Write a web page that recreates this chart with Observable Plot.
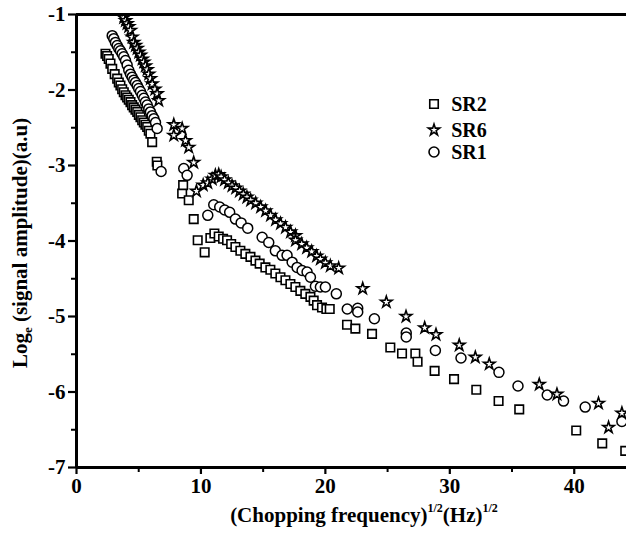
<!DOCTYPE html>
<html>
<head>
<meta charset="utf-8">
<script src="https://cdn.jsdelivr.net/npm/d3@7"></script>
<script src="https://cdn.jsdelivr.net/npm/@observablehq/plot@0.6"></script>
<style>
  html, body { margin: 0; padding: 0; background: #fff; }
  #chart { width: 626px; height: 534px; }
</style>
</head>
<body>
<div id="chart"></div>
<script>
// ---- data ----
const seriesNames = ["SR2", "SR6", "SR1"];

const sr2X = [2.33,2.46,2.59,2.73,2.87,3.07,3.27,3.40,3.53,3.67,3.80,3.94,4.07,4.20,4.34,4.47,4.60,4.74,4.88,5.01,5.14,5.28,5.41,5.54,5.68,5.81,5.94,6.08,6.45,6.50,
  8.49,8.57,9.02,9.42,9.74,10.30,10.76,11.08,11.43,11.78,12.10,12.43,12.77,13.17,13.57,13.98,14.38,14.72,15.18,15.58,15.98,16.39,16.79,17.19,17.59,17.99,18.39,18.80,19.06,19.33,19.73,20.08,20.35,
  21.74,22.41,23.75,25.22,26.16,27.23,27.41,28.78,30.34,32.13,33.92,35.58,40.16,42.25,44.1];
const sr2Y = [-1.52,-1.55,-1.59,-1.65,-1.72,-1.79,-1.85,-1.90,-1.94,-1.99,-2.03,-2.07,-2.10,-2.13,-2.16,-2.20,-2.23,-2.26,-2.29,-2.33,-2.36,-2.40,-2.43,-2.46,-2.49,-2.54,-2.58,-2.69,-2.95,-3.00,
  -3.37,-3.26,-3.46,-3.71,-3.99,-4.15,-3.96,-3.90,-3.94,-3.97,-3.99,-4.04,-4.08,-4.13,-4.17,-4.21,-4.26,-4.30,-4.35,-4.38,-4.43,-4.48,-4.52,-4.57,-4.61,-4.66,-4.70,-4.74,-4.79,-4.85,-4.88,-4.90,-4.90,
  -5.11,-5.16,-5.23,-5.41,-5.49,-5.49,-5.60,-5.72,-5.83,-5.97,-6.12,-6.23,-6.51,-6.68,-6.78];

const sr6X = [3.80,3.94,4.07,4.20,4.34,4.47,4.60,4.74,4.88,5.01,5.14,5.28,5.41,5.54,5.68,5.81,5.94,6.08,6.30,6.48,6.61,
  7.82,7.82,8.49,8.76,9.02,9.42,9.64,10.18,10.55,10.90,11.16,11.43,11.62,11.90,12.20,12.50,12.80,13.10,13.40,13.70,14.00,14.40,14.80,15.20,15.60,16.00,16.40,16.80,17.20,17.60,17.60,18.10,18.50,18.90,19.30,19.60,20.00,20.40,21.07,
  23.00,24.90,26.48,27.98,28.89,30.76,32.05,33.17,37.19,38.61,41.95,42.76,43.83];
const sr6Y = [-1.04,-1.08,-1.12,-1.16,-1.21,-1.30,-1.37,-1.41,-1.45,-1.50,-1.54,-1.59,-1.63,-1.68,-1.73,-1.79,-1.85,-1.92,-1.99,-2.05,-2.14,
  -2.46,-2.60,-2.51,-2.67,-2.76,-2.96,-3.34,-3.26,-3.23,-3.18,-3.13,-3.12,-3.15,-3.19,-3.23,-3.27,-3.30,-3.34,-3.38,-3.42,-3.46,-3.50,-3.55,-3.60,-3.66,-3.72,-3.77,-3.82,-3.88,-3.93,-3.99,-4.04,-4.09,-4.14,-4.20,-4.24,-4.29,-4.33,-4.36,
  -4.63,-4.81,-5.00,-5.15,-5.24,-5.38,-5.54,-5.63,-5.90,-6.03,-6.15,-6.47,-6.28];

const sr1X = [2.87,3.00,3.13,3.27,3.40,3.53,3.67,3.80,3.94,4.07,4.20,4.34,4.47,4.60,4.74,4.88,5.00,5.14,5.28,5.41,5.54,5.68,5.81,5.94,6.08,6.22,6.35,6.48,6.80,
  8.62,8.89,10.55,11.03,11.51,11.91,12.31,12.77,13.23,13.76,14.92,15.45,15.98,16.52,16.92,17.33,17.73,18.13,18.53,18.80,19.20,19.60,20.00,20.88,
  21.76,22.60,22.60,23.94,26.50,26.50,28.84,30.90,33.95,35.48,37.83,39.14,40.88,43.83];
const sr1Y = [-1.28,-1.32,-1.37,-1.41,-1.45,-1.48,-1.52,-1.56,-1.61,-1.67,-1.74,-1.79,-1.83,-1.87,-1.90,-1.94,-1.98,-2.02,-2.07,-2.11,-2.16,-2.20,-2.25,-2.29,-2.34,-2.38,-2.43,-2.51,-3.08,
  -3.04,-3.13,-3.66,-3.52,-3.55,-3.59,-3.62,-3.71,-3.76,-3.83,-3.95,-4.02,-4.13,-4.19,-4.19,-4.28,-4.35,-4.39,-4.41,-4.48,-4.60,-4.61,-4.61,-4.70,
  -4.90,-4.89,-4.94,-5.03,-5.22,-5.27,-5.45,-5.55,-5.74,-5.92,-6.04,-6.12,-6.20,-6.39];

const xMajorTicks = [0, 10, 20, 30, 40];
const xMinorTicks = [5, 15, 25, 35];
const yMajorTicks = [-1, -2, -3, -4, -5, -6, -7];
const yMinorTicks = [-1.5, -2.5, -3.5, -4.5, -5.5, -6.5];
const xDomain = [0, 44.2];
const yDomain = [-7, -1];

const zip = (xs, ys) => xs.map((x, i) => ({x, y: ys[i]}));
const sr2 = zip(sr2X, sr2Y);
const sr6 = zip(sr6X, sr6Y);
const sr1 = zip(sr1X, sr1Y);

const FONT = "'Liberation Serif', 'Times New Roman', serif";

const plot = Plot.plot({
  width: 626,
  height: 534,
  marginLeft: 76,
  marginRight: 0,
  marginTop: 14,
  marginBottom: 67,
  style: {fontFamily: FONT, fontSize: "20px", fontWeight: "bold", color: "#000", background: "#fff", overflow: "hidden"},
  x: {domain: xDomain},
  y: {domain: yDomain},
  marks: [
    Plot.dot(sr2, {x: "x", y: "y", symbol: "square", r: 4.8, fill: "white", stroke: "black", strokeWidth: 1.6, clip: true}),
    Plot.dot(sr1, {x: "x", y: "y", symbol: "circle", r: 5, fill: "white", stroke: "black", strokeWidth: 1.5, clip: true}),
    Plot.dot(sr6, {x: "x", y: "y", symbol: "star", r: 3.6, fill: "white", stroke: "black", strokeWidth: 1.6, clip: true}),
    Plot.axisX({ticks: xMajorTicks, tickSize: 7, tickPadding: 4, strokeWidth: 2.2, label: null, tickFormat: d => String(d), fontSize: 21, fontWeight: "bold"}),
    Plot.axisX({ticks: xMinorTicks, tickSize: 5, strokeWidth: 2, text: null, label: null}),
    Plot.axisY({ticks: yMajorTicks, tickSize: 8, tickPadding: 3, strokeWidth: 2.2, label: null, tickFormat: d => String(d), fontSize: 21, fontWeight: "bold"}),
    Plot.axisY({ticks: yMinorTicks, tickSize: 5, strokeWidth: 2, text: null, label: null}),
    Plot.ruleX([xDomain[0]], {strokeWidth: 3}),
    Plot.ruleY([yDomain[0]], {strokeWidth: 3}),
    Plot.ruleY([yDomain[1]], {strokeWidth: 3})
  ]
});

document.getElementById("chart").appendChild(plot);

// ---- axis titles with sub/superscripts, and legend ----
const svg = d3.select(plot);

const yt = svg.append("text")
  .attr("transform", "translate(27,243) rotate(-90)")
  .attr("text-anchor", "middle")
  .style("font-family", FONT).style("font-size", "21px").style("font-weight", "bold").attr("fill", "#000");
yt.append("tspan").text("Log");
yt.append("tspan").attr("dy", 5).style("font-size", "13px").text("e");
yt.append("tspan").attr("dy", -5).text(" (signal amplitude)(a.u)");

const xt = svg.append("text")
  .attr("x", 364).attr("y", 522)
  .attr("text-anchor", "middle")
  .style("font-family", FONT).style("font-size", "21px").style("font-weight", "bold").attr("fill", "#000");
xt.append("tspan").text("(Chopping frequency)");
xt.append("tspan").attr("dy", -10).style("font-size", "12px").text("1/2");
xt.append("tspan").attr("dy", 10).text("(Hz)");
xt.append("tspan").attr("dy", -10).style("font-size", "12px").text("1/2");

const legendItems = [
  {name: seriesNames[0], sym: d3.symbolSquare, size: 72, y: 104},
  {name: seriesNames[1], sym: d3.symbolStar, size: 40, y: 130},
  {name: seriesNames[2], sym: d3.symbolCircle, size: 78, y: 152}
];
const lg = svg.append("g");
legendItems.forEach(it => {
  lg.append("path")
    .attr("d", d3.symbol(it.sym, it.size)())
    .attr("transform", `translate(434,${it.y})`)
    .attr("fill", "white").attr("stroke", "black").attr("stroke-width", 1.6);
  lg.append("text")
    .attr("x", 469).attr("y", it.y).attr("dy", "0.35em")
    .style("font-family", FONT).style("font-size", "20px").style("font-weight", "bold")
    .attr("fill", "#000").text(it.name);
});
</script>
</body>
</html>
